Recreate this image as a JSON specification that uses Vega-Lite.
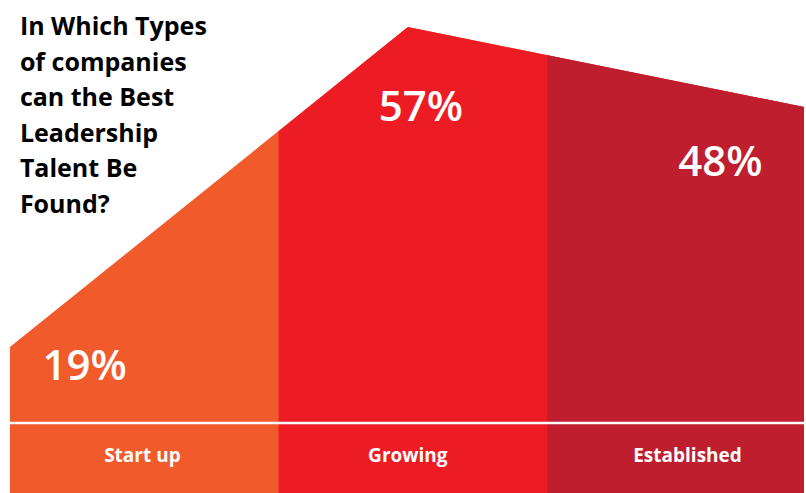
{
  "$schema": "https://vega.github.io/schema/vega-lite/v6.json",
  "width": 806,
  "height": 493,
  "autosize": {"type": "fit", "contains": "padding"},
  "padding": 0,
  "background": "white",
  "config": {"view": {"stroke": null}},
  "datasets": {
    "outline": [
      {"segment": "Start up", "pos": 0, "level": 29.6},
      {"segment": "Start up", "pos": 1.481, "level": 94.5},
      {"segment": "Start up", "pos": 3, "level": 77.8},
      {"segment": "Growing", "pos": 1, "level": 73.4},
      {"segment": "Growing", "pos": 1.481, "level": 94.5},
      {"segment": "Growing", "pos": 3, "level": 77.8},
      {"segment": "Established", "pos": 2, "level": 88.8},
      {"segment": "Established", "pos": 3, "level": 77.8}
    ],
    "labels": [
      {"segment": "Start up", "pct": "19%", "px": 0.278, "py": 25.6, "cx": 0.493},
      {"segment": "Growing", "pct": "57%", "px": 1.53, "py": 78.1, "cx": 1.481},
      {"segment": "Established", "pct": "48%", "px": 2.644, "py": 66.9, "cx": 2.522}
    ],
    "heading": [
      {"text": "In Which Types\nof companies\ncan the Best\nLeadership\nTalent Be\nFound?"}
    ]
  },
  "layer": [
    {
      "data": {"name": "outline"},
      "mark": {"type": "area", "clip": true, "interpolate": "linear"},
      "encoding": {
        "x": {"field": "pos", "type": "quantitative", "scale": {"domain": [-0.0296, 2.9556], "nice": false, "zero": false}, "axis": null},
        "y": {"field": "level", "type": "quantitative", "stack": null, "scale": {"domain": [0, 100], "nice": false}, "axis": null},
        "color": {"field": "segment", "type": "nominal", "legend": null,
          "scale": {"domain": ["Start up", "Growing", "Established"], "range": ["#F15A2B", "#ED1C24", "#BE1E2D"]}}
      }
    },
    {
      "data": {"values": [{}]},
      "mark": {"type": "rule", "color": "white", "strokeWidth": 2.5},
      "encoding": {"y": {"datum": 14.2, "type": "quantitative"}}
    },
    {
      "data": {"name": "labels"},
      "mark": {"type": "text", "color": "white", "font": "Open Sans", "fontSize": 42, "fontWeight": 600, "align": "center", "baseline": "middle"},
      "encoding": {
        "x": {"field": "px", "type": "quantitative"},
        "y": {"field": "py", "type": "quantitative"},
        "text": {"field": "pct"}
      }
    },
    {
      "data": {"name": "labels"},
      "mark": {"type": "text", "color": "white", "font": "Open Sans", "fontSize": 19, "fontWeight": "bold", "align": "center", "baseline": "middle"},
      "encoding": {
        "x": {"field": "cx", "type": "quantitative"},
        "y": {"datum": 7.5, "type": "quantitative"},
        "text": {"field": "segment"}
      }
    },
    {
      "data": {"name": "heading"},
      "mark": {"type": "text", "color": "black", "font": "Open Sans", "fontSize": 25, "fontWeight": "bold", "align": "left", "baseline": "alphabetic", "lineBreak": "\n", "lineHeight": 35.6},
      "encoding": {
        "x": {"datum": 0.037, "type": "quantitative"},
        "y": {"datum": 92.9, "type": "quantitative"},
        "text": {"field": "text"}
      }
    }
  ]
}
